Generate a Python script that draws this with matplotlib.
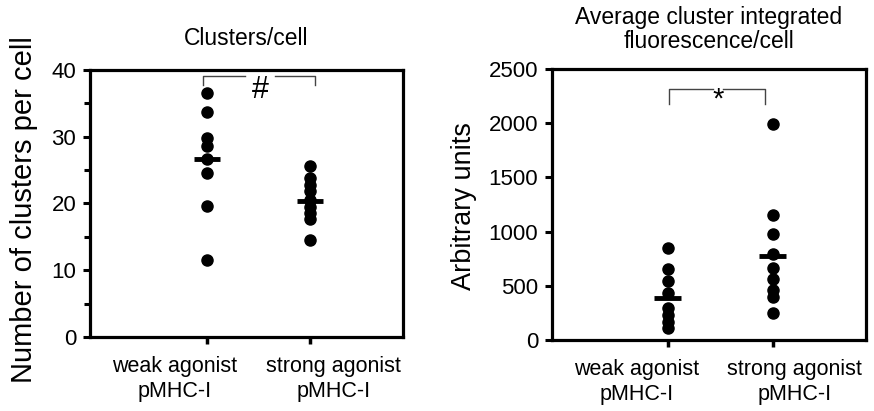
import matplotlib
matplotlib.use("Agg")
import matplotlib.pyplot as plt
from matplotlib.transforms import ScaledTranslation

plt.rcParams['font.family'] = ['Liberation Sans', 'DejaVu Sans']

# ----- Daten -----
groups = ["weak agonist\npMHC-I", "strong agonist\npMHC-I"]

clusters_weak = [36.6, 33.7, 29.8, 28.6, 26.7, 24.6, 19.6, 11.6]
clusters_strong = [25.6, 23.8, 22.8, 21.8, 20.5, 19.4, 18.5, 17.7, 14.5]
clusters_mean = [26.7, 20.3]

fluor_weak = [850, 657, 543, 430, 297, 230, 170, 115]
fluor_strong = [1990, 1150, 980, 790, 665, 560, 465, 400, 245]
fluor_mean = [387, 775]

fig = plt.figure(figsize=(8.74, 4.11), dpi=100)
ax1 = fig.add_axes([0.103, 0.180, 0.358, 0.650])
ax2 = fig.add_axes([0.6316, 0.1727, 0.3593, 0.6594])


def style(ax, ymax, ymajor, yminor=None):
    for sp in ax.spines.values():
        sp.set_linewidth(2.3)
    ax.set_ylim(0, ymax)
    ax.set_yticks(range(0, ymax + 1, ymajor))
    if yminor:
        ax.set_yticks(range(0, ymax + 1, yminor), minor=True)
    ax.tick_params(axis='y', which='major', length=5, width=2.2, pad=5, labelsize=16)
    ax.tick_params(axis='y', which='minor', length=4, width=2.2)
    ax.tick_params(axis='x', which='major', length=5, width=2.5, pad=9, labelsize=15.5)
    ax.set_xticks([1, 2])
    ax.set_xticklabels(groups, linespacing=1.25)


def dots(ax, data, means, halfw):
    for i, vals in enumerate(data):
        ax.plot([i + 1] * len(vals), vals, 'o', color='black', ms=8, mec='black')
        ax.hlines(means[i], i + 1 - halfw, i + 1 + halfw, color='black', lw=3.5, zorder=3)


# ----- linker Plot -----
dots(ax1, [clusters_weak, clusters_strong], clusters_mean, 0.125)
ax1.set_xlim(-0.14, 2.9)
style(ax1, 40, 10, 5)
ax1.set_title("Clusters/cell", fontsize=16.5, pad=18)
ax1.set_ylabel("Number of clusters per cell", fontsize=21)
ax1.yaxis.set_label_coords(-0.21, 0.476)
ax1.yaxis.label.set_va('center')

# Klammer mit #
ax1.plot([0.96, 0.96, 1.37], [37.75, 39.1, 39.1], color='#444444', lw=1)
ax1.plot([1.66, 2.05, 2.05], [39.1, 39.1, 37.75], color='#444444', lw=1)
ax1.text(1.51, 37.0, "#", fontsize=22, ha='center', va='center')

# ----- rechter Plot -----
dots(ax2, [fluor_weak, fluor_strong], fluor_mean, 0.13)
ax2.set_xlim(-0.10, 2.89)
style(ax2, 2500, 500)
ax2.set_title("Average cluster integrated\nfluorescence/cell", fontsize=16.5, pad=15, linespacing=1.05)
ax2.set_ylabel("Arbitrary units", fontsize=19.5)
ax2.yaxis.set_label_coords(-0.28, 0.494)
ax2.yaxis.label.set_va('center')

ax2.plot([1.01, 1.01, 1.43], [2173, 2320, 2320], color='#444444', lw=1)
ax2.plot([1.53, 1.93, 1.93], [2320, 2320, 2173], color='#444444', lw=1)
ax2.text(1.48, 2140, "*", fontsize=21, ha='center', va='baseline')

# Beschriftungen etwas auseinanderschieben
for ax, shifts in ((ax1, (-0.33, 0.23)), (ax2, (-0.31, 0.22))):
    for lab, dx in zip(ax.get_xticklabels(), shifts):
        lab.set_transform(lab.get_transform() + ScaledTranslation(dx, 0, fig.dpi_scale_trans))

fig.savefig("out.png", dpi=100)
